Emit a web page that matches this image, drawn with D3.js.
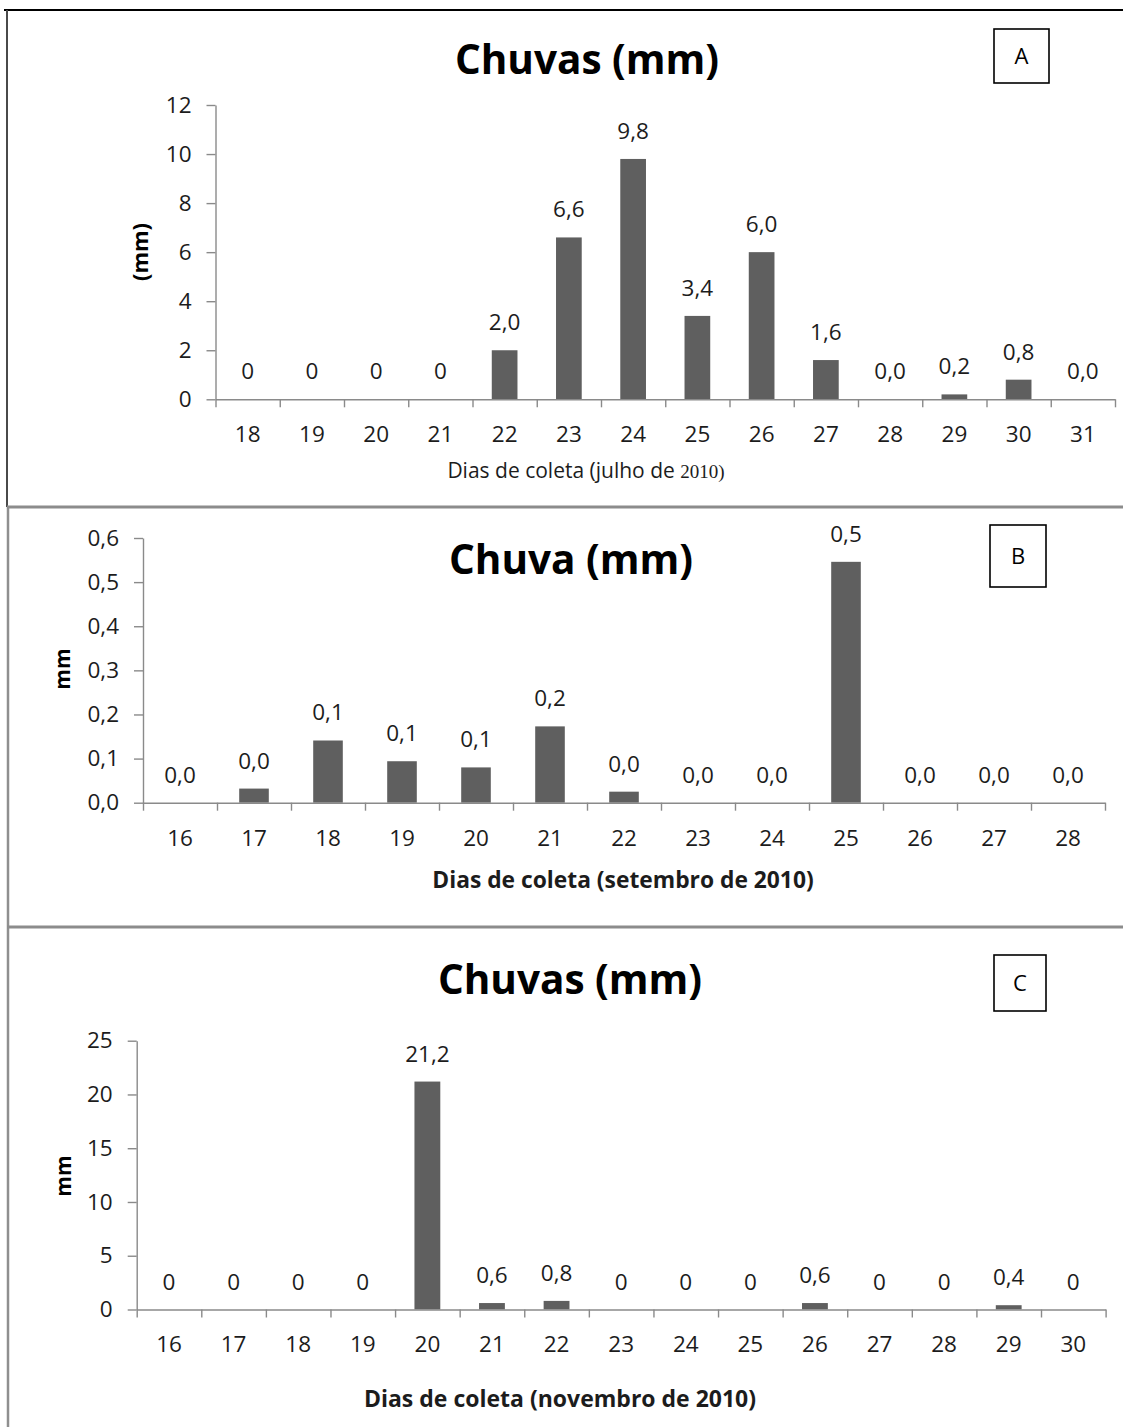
<!DOCTYPE html>
<html>
<head>
<meta charset="utf-8">
<script src="https://cdn.jsdelivr.net/npm/d3@7"></script>
<style>
  html, body { margin: 0; padding: 0; background: #ffffff; }
  svg { display: block; }
</style>
</head>
<body>
<svg id="chart" width="1123" height="1427"></svg>
<script>
// Panel A — rainfall, July 2010
const daysA = ["18","19","20","21","22","23","24","25","26","27","28","29","30","31"];
const rainA = [0, 0, 0, 0, 2.0, 6.6, 9.8, 3.4, 6.0, 1.6, 0, 0.2, 0.8, 0];
const labelDecimalsA = [0, 0, 0, 0, 1, 1, 1, 1, 1, 1, 1, 1, 1, 1];
const ticksA = [0, 2, 4, 6, 8, 10, 12];

// Panel B — rainfall, September 2010
const daysB = ["16","17","18","19","20","21","22","23","24","25","26","27","28"];
const rainB = [0, 0.032, 0.141, 0.094, 0.080, 0.173, 0.025, 0, 0, 0.546, 0, 0, 0];
const labelDecimalsB = [1, 1, 1, 1, 1, 1, 1, 1, 1, 1, 1, 1, 1];
const ticksB = [0, 0.1, 0.2, 0.3, 0.4, 0.5, 0.6];

// Panel C — rainfall, November 2010
const daysC = ["16","17","18","19","20","21","22","23","24","25","26","27","28","29","30"];
const rainC = [0, 0, 0, 0, 21.2, 0.6, 0.8, 0, 0, 0, 0.6, 0, 0, 0.4, 0];
const labelDecimalsC = [0, 0, 0, 0, 1, 1, 1, 0, 0, 0, 1, 0, 0, 1, 0];
const ticksC = [0, 5, 10, 15, 20, 25];

const FONT = "'Open Sans', 'DejaVu Sans', sans-serif";
const TEXT = "#1c1c1c";
const AXIS = "#8a8a8a";
const BAR = "#5f5f5f";
const NUM_SIZE = 22.5;

const svg = d3.select("#chart");

// frame lines around and between the panels
const frame = svg.append("g");
frame.append("line").attr("x1", 4).attr("x2", 1123).attr("y1", 10).attr("y2", 10)
  .attr("stroke", "#000").attr("stroke-width", 2);
frame.append("line").attr("x1", 7).attr("x2", 7).attr("y1", 10).attr("y2", 507)
  .attr("stroke", "#4a4a4a").attr("stroke-width", 2);
frame.append("line").attr("x1", 8).attr("x2", 8).attr("y1", 507).attr("y2", 1427)
  .attr("stroke", "#8f8f8f").attr("stroke-width", 2.5);
[507, 927].forEach(y => {
  frame.append("line").attr("x1", 7).attr("x2", 1123).attr("y1", y).attr("y2", y)
    .attr("stroke", "#8c8c8c").attr("stroke-width", 3);
});

const comma = (v, d) => d3.format("." + d + "f")(v).replace(".", ",");

function drawPanel(cfg) {
  const g = svg.append("g");
  const n = cfg.days.length;

  const x = d3.scaleBand().domain(cfg.days).range([cfg.x0, cfg.x1])
    .paddingInner(0.6).paddingOuter(0.3);
  const xEdge = d3.scaleLinear().domain([0, n]).range([cfg.x0, cfg.x1]);
  const y = d3.scaleLinear().domain([0, cfg.yMax]).range([cfg.yBase, cfg.yTop]);

  // bars
  g.selectAll("rect.bar").data(cfg.values).enter().append("rect")
    .attr("class", "bar")
    .attr("x", (d, i) => x(cfg.days[i]))
    .attr("width", x.bandwidth())
    .attr("y", d => y(d))
    .attr("height", d => y(0) - y(d))
    .attr("fill", BAR);

  // y axis
  const ya = g.append("g").attr("transform", `translate(${cfg.x0},0)`)
    .call(d3.axisLeft(y).tickValues(cfg.yTicks).tickSize(9).tickSizeOuter(0)
      .tickPadding(15).tickFormat(cfg.yFormat));
  // x axis: boundary ticks between categories
  const xa = g.append("g").attr("transform", `translate(0,${cfg.yBase})`)
    .call(d3.axisBottom(xEdge).tickValues(d3.range(n + 1)).tickSize(8)
      .tickSizeOuter(0).tickFormat(""));
  // x axis: day labels centred in each category
  const xl = g.append("g").attr("transform", `translate(0,${cfg.yBase})`)
    .call(d3.axisBottom(x).tickSize(0).tickPadding(cfg.xLabelPad));
  xl.select(".domain").remove();

  [ya, xa, xl].forEach(a => {
    a.selectAll(".domain, .tick line").attr("stroke", AXIS).attr("stroke-width", 1.4);
    a.selectAll("text").attr("font-family", FONT).attr("font-size", NUM_SIZE).attr("fill", TEXT);
  });

  // value labels
  g.selectAll("text.val").data(cfg.values).enter().append("text")
    .attr("class", "val")
    .attr("x", (d, i) => x(cfg.days[i]) + x.bandwidth() / 2)
    .attr("y", d => y(d) - 20)
    .attr("text-anchor", "middle")
    .attr("font-family", FONT).attr("font-size", NUM_SIZE).attr("fill", TEXT)
    .text((d, i) => comma(d, cfg.decimals[i]));

  // title
  g.append("text").attr("x", cfg.titleX).attr("y", cfg.titleY)
    .attr("text-anchor", "middle").attr("font-family", FONT)
    .attr("font-weight", 700).attr("font-size", 40.5).attr("fill", "#000")
    .text(cfg.title);

  // panel letter box
  g.append("rect").attr("x", cfg.box[0]).attr("y", cfg.box[1])
    .attr("width", cfg.box[2]).attr("height", cfg.box[3])
    .attr("fill", "#fff").attr("stroke", "#000").attr("stroke-width", 1.6);
  g.append("text").attr("x", cfg.box[0] + cfg.box[2] / 2).attr("y", cfg.box[1] + cfg.box[3] / 2 + 8)
    .attr("text-anchor", "middle").attr("font-family", FONT).attr("font-size", 22)
    .attr("fill", "#000").text(cfg.letter);

  // y axis title
  g.append("text")
    .attr("transform", `translate(${cfg.yLabelX},${cfg.yLabelY}) rotate(-90)`)
    .attr("text-anchor", "middle").attr("font-family", FONT)
    .attr("font-weight", 700).attr("font-size", cfg.yLabelSize).attr("fill", "#000")
    .text(cfg.yLabel);

  // x axis title
  const xt = g.append("text").attr("x", cfg.xTitleX).attr("y", cfg.xTitleY)
    .attr("text-anchor", "middle").attr("font-family", FONT)
    .attr("font-weight", cfg.xTitleBold ? 700 : 400)
    .attr("font-size", cfg.xTitleSize).attr("fill", TEXT);
  cfg.xTitle.forEach(part => {
    const t = xt.append("tspan").text(part.text);
    if (part.serif) t.attr("font-family", "'Liberation Serif', 'DejaVu Serif', serif")
      .attr("font-size", part.serif);
  });
}

drawPanel({
  days: daysA, values: rainA, decimals: labelDecimalsA,
  x0: 215.5, x1: 1115, yBase: 399.3, yTop: 105, yMax: 12,
  yTicks: ticksA, yFormat: d3.format("d"), xLabelPad: 27,
  title: "Chuvas (mm)", titleX: 587, titleY: 74,
  box: [994, 29, 55, 54], letter: "A",
  yLabel: "(mm)", yLabelX: 148, yLabelY: 252, yLabelSize: 22,
  xTitle: [{ text: "Dias de coleta (julho de " }, { text: "2010)", serif: 19 }],
  xTitleX: 586, xTitleY: 478, xTitleSize: 21, xTitleBold: false
});

drawPanel({
  days: daysB, values: rainB, decimals: labelDecimalsB,
  x0: 143, x1: 1105, yBase: 802.7, yTop: 538, yMax: 0.6,
  yTicks: ticksB, yFormat: v => comma(v, 1), xLabelPad: 27,
  title: "Chuva (mm)", titleX: 571, titleY: 574,
  box: [990, 525, 56, 62], letter: "B",
  yLabel: "mm", yLabelX: 70, yLabelY: 669, yLabelSize: 21,
  xTitle: [{ text: "Dias de coleta (setembro de 2010)" }],
  xTitleX: 623, xTitleY: 888, xTitleSize: 22.8, xTitleBold: true
});

drawPanel({
  days: daysC, values: rainC, decimals: labelDecimalsC,
  x0: 136.7, x1: 1105.6, yBase: 1309.5, yTop: 1040.7, yMax: 25,
  yTicks: ticksC, yFormat: d3.format("d"), xLabelPad: 27,
  title: "Chuvas (mm)", titleX: 570, titleY: 994,
  box: [994, 955, 52, 56], letter: "C",
  yLabel: "mm", yLabelX: 71, yLabelY: 1176, yLabelSize: 21,
  xTitle: [{ text: "Dias de coleta (novembro de 2010)" }],
  xTitleX: 560, xTitleY: 1407, xTitleSize: 23, xTitleBold: true
});
</script>
</body>
</html>
